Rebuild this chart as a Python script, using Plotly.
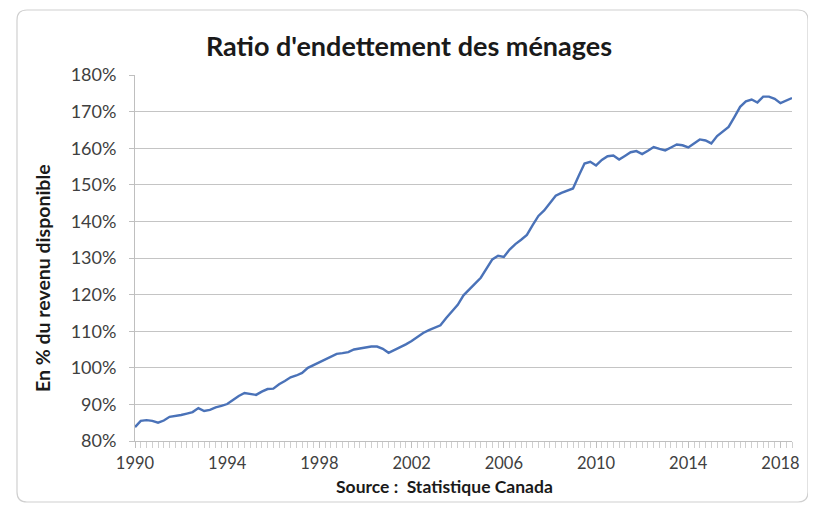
import plotly.graph_objects as go

start_year = 1990
ratio = [
    83.8, 85.5, 85.7, 85.5, 85.0, 85.6, 86.6, 86.8, 87.1, 87.5,
    87.9, 89.0, 88.2, 88.5, 89.2, 89.6, 90.1, 91.2, 92.3, 93.1,
    92.9, 92.6, 93.5, 94.2, 94.3, 95.5, 96.4, 97.4, 97.9, 98.6,
    100.0, 100.8, 101.4, 102.3, 103.2, 103.8, 104.0, 104.3, 105.0, 105.3,
    105.6, 105.8, 105.8, 105.2, 104.1, 104.8, 105.5, 106.4, 107.3, 108.4,
    109.5, 110.3, 110.9, 111.6, 113.6, 115.5, 117.2, 119.8, 121.3, 123.0,
    124.6, 127.0, 129.6, 130.6, 130.3, 132.3, 133.8, 135.0, 136.3, 139.0,
    141.5, 143.0, 145.0, 147.0, 147.8, 148.3, 149.0, 152.5, 155.8, 156.3,
    155.3, 156.8, 157.8, 158.0, 156.9, 157.9, 158.9, 159.2, 158.4, 159.3,
    160.3, 159.8, 159.4, 160.2, 161.0, 160.8, 160.2, 161.3, 162.4, 162.1,
    161.3, 163.3, 164.5, 165.8, 168.5, 171.3, 172.8, 173.3, 172.5, 174.1,
    174.1, 173.5, 172.3, 172.9, 173.7,
]
quarters = [start_year + i / 4 for i in range(len(ratio))]
x_tick_years = [1990, 1994, 1998, 2002, 2006, 2010, 2014, 2018]
y_ticks = [80, 90, 100, 110, 120, 130, 140, 150, 160, 170, 180]

title_text = "Ratio d'endettement des ménages"
y_title = "En % du revenu disponible"
x_title = "Source :  Statistique Canada"

# page body has an 8px margin: figure is placed at (8, 8)
OFF = 8
W, H = 816 - OFF, 522 - OFF
L, R, T, B = 135 - OFF, 24, 75 - OFF, 81
pw, ph = W - L - R, H - T - B

def px(x):
    return (x - OFF - L) / pw

def py(y):
    return (H - B - (y - OFF)) / ph

fig = go.Figure()
fig.add_trace(go.Scatter(
    x=quarters, y=ratio, mode="lines",
    line=dict(color="#4a72b8", width=2.4),
    hoverinfo="x+y", showlegend=False,
))

grid_col = "#c4c4c4"
font_fam = "Lato, 'Open Sans', sans-serif"

fig.update_layout(
    width=W, height=H,
    margin=dict(l=L, r=R, t=T, b=B),
    paper_bgcolor="white", plot_bgcolor="white",
    title=dict(text=title_text, x=px(409), xanchor="center", xref="paper",
               y=1 - (47 - OFF) / H, yanchor="middle",
               font=dict(family=font_fam, size=27, color="#1a1a1a", weight="bold")),
    xaxis=dict(
        range=[quarters[0], quarters[-1]],
        tickvals=x_tick_years, ticktext=[str(v) for v in x_tick_years],
        showgrid=False, zeroline=False,
        showline=True, linecolor="#bfbfbf", linewidth=1,
        ticks="outside", ticklen=6, tickcolor="#bfbfbf",
        ticklabelstandoff=1,
        minor=dict(dtick=0.25, tick0=1990, ticks="outside", ticklen=6, tickcolor="#cfcfcf", showgrid=False),
        tickfont=dict(family=font_fam, size=16.5, color="#404040"),
    ),
    yaxis=dict(
        range=[80, 180], tickvals=y_ticks, ticktext=[f"{v}%" for v in y_ticks],
        showgrid=True, gridcolor=grid_col, gridwidth=1, zeroline=False,
        showline=True, linecolor="#bfbfbf", linewidth=1,
        ticks="outside", ticklen=5, tickcolor="#bfbfbf",
        ticklabelstandoff=9,
        tickfont=dict(family=font_fam, size=18, color="#404040"),
    ),
    annotations=[
        dict(text=x_title, xref="paper", yref="paper", x=px(444), y=py(487),
             xanchor="center", yanchor="middle", showarrow=False,
             font=dict(family=font_fam, size=17.5, color="#1a1a1a", weight="bold")),
        dict(text=y_title, xref="paper", yref="paper", x=px(42), y=py(278),
             xanchor="center", yanchor="middle", showarrow=False, textangle=-90,
             font=dict(family=font_fam, size=19.5, color="#1a1a1a", weight="bold")),
    ],
)

# chart-area frame (rounded)
x0, x1, y0, y1, r = px(17), px(808), py(10), py(502), 10
rx, ry = r / pw, r / ph
path = (f"M {x0+rx},{y0} L {x1-rx},{y0} Q {x1},{y0} {x1},{y0-ry} "
        f"L {x1},{y1+ry} Q {x1},{y1} {x1-rx},{y1} L {x0+rx},{y1} "
        f"Q {x0},{y1} {x0},{y1+ry} L {x0},{y0-ry} Q {x0},{y0} {x0+rx},{y0} Z")
fig.add_shape(type="path", path=path, xref="paper", yref="paper",
              line=dict(color="#d0d0d0", width=1.2), layer="below")

fig.write_html("out.html")
